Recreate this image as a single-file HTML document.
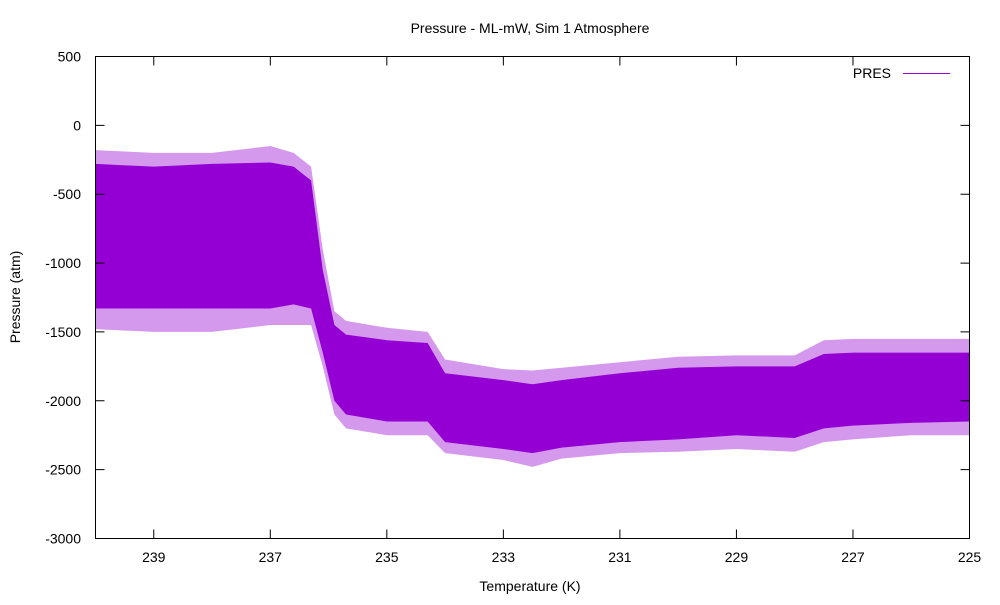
<!DOCTYPE html>
<html><head><meta charset="utf-8"><style>
body{margin:0;background:#fff;}
text{font-family:"Liberation Sans",sans-serif;font-size:14px;fill:#000;}
</style></head><body>
<svg id="chart" width="1000" height="600" xmlns="http://www.w3.org/2000/svg">
<text x="530" y="33" text-anchor="middle">Pressure - ML-mW, Sim 1 Atmosphere</text>
<text x="530" y="591" text-anchor="middle">Temperature (K)</text>
<text transform="translate(20,297) rotate(-90)" text-anchor="middle">Pressure (atm)</text>
<g id="series"></g>
<g id="axes"></g>
<rect x="95.5" y="56.5" width="874" height="482" fill="none" stroke="#000" stroke-width="1"/>
<g>
<text x="891" y="78" text-anchor="end">PRES</text>
<line x1="903" y1="73.5" x2="950" y2="73.5" stroke="#9400d3" stroke-width="1"/>
</g>
</svg>
<script>
const temps   = [240, 239, 238, 237, 236.6, 236.3, 236.1, 235.9, 235.7, 235, 234.3, 234, 233, 232.5, 232, 231, 230, 229, 228, 227.5, 227, 226, 225];
const denseTop= [-280,-300,-280,-270,-300,-400,-1050,-1450,-1520,-1560,-1580,-1800,-1850,-1880,-1850,-1800,-1760,-1750,-1750,-1660,-1650,-1650,-1650];
const denseBot= [-1330,-1330,-1330,-1330,-1300,-1330,-1650,-2000,-2100,-2150,-2150,-2300,-2350,-2380,-2340,-2300,-2280,-2250,-2270,-2200,-2180,-2160,-2150];
const spikeTop= [-180,-200,-200,-150,-200,-300,-900,-1350,-1420,-1470,-1500,-1700,-1770,-1780,-1760,-1720,-1680,-1670,-1670,-1560,-1550,-1550,-1550];
const spikeBot= [-1480,-1500,-1500,-1450,-1450,-1450,-1750,-2100,-2200,-2250,-2250,-2380,-2430,-2480,-2420,-2380,-2370,-2350,-2370,-2300,-2280,-2250,-2250];
const yTicks  = [500,0,-500,-1000,-1500,-2000,-2500,-3000];
const xTicks  = [239,237,235,233,231,229,227,225];
const X0=95.5,X1=969.5,Y0=56.5,Y1=538.5;
const xs=t=>X0+(240-t)/(240-225)*(X1-X0);
const ys=v=>Y0+(500-v)/3500*(Y1-Y0);
const NS="http://www.w3.org/2000/svg";
const ser=document.getElementById('series'), ax=document.getElementById('axes');
function band(top,bot,op,name){
  let pts=temps.map((t,i)=>xs(t)+","+ys(top[i]));
  for(let i=temps.length-1;i>=0;i--)pts.push(xs(temps[i])+","+ys(bot[i]));
  const p=document.createElementNS(NS,'polygon');
  p.setAttribute('points',pts.join(' '));
  p.setAttribute('fill','#9400d3');p.setAttribute('fill-opacity',op);
  
  
  ser.appendChild(p);
}
band(spikeTop,spikeBot,0.4,'spike-envelope');
band(denseTop,denseBot,1,'dense-band');
yTicks.forEach(v=>{
  const y=ys(v);
  const l=document.createElementNS(NS,'path');
  l.setAttribute('d',`M${X0} ${y}h9M${X1} ${y}h-9`);l.setAttribute('stroke','#000');
  
  
  ax.appendChild(l);
  const t=document.createElementNS(NS,'text');
  t.setAttribute('x',81);t.setAttribute('y',y+5);t.setAttribute('text-anchor','end');t.textContent=v;
  
  
  ax.appendChild(t);
});
xTicks.forEach(v=>{
  const x=xs(v);
  const l=document.createElementNS(NS,'path');
  l.setAttribute('d',`M${x} ${Y1}v-9M${x} ${Y0}v9`);l.setAttribute('stroke','#000');
  
  
  ax.appendChild(l);
  const t=document.createElementNS(NS,'text');
  t.setAttribute('x',x);t.setAttribute('y',562);t.setAttribute('text-anchor','middle');t.textContent=v;
  
  
  ax.appendChild(t);
});
</script>
</body></html>
